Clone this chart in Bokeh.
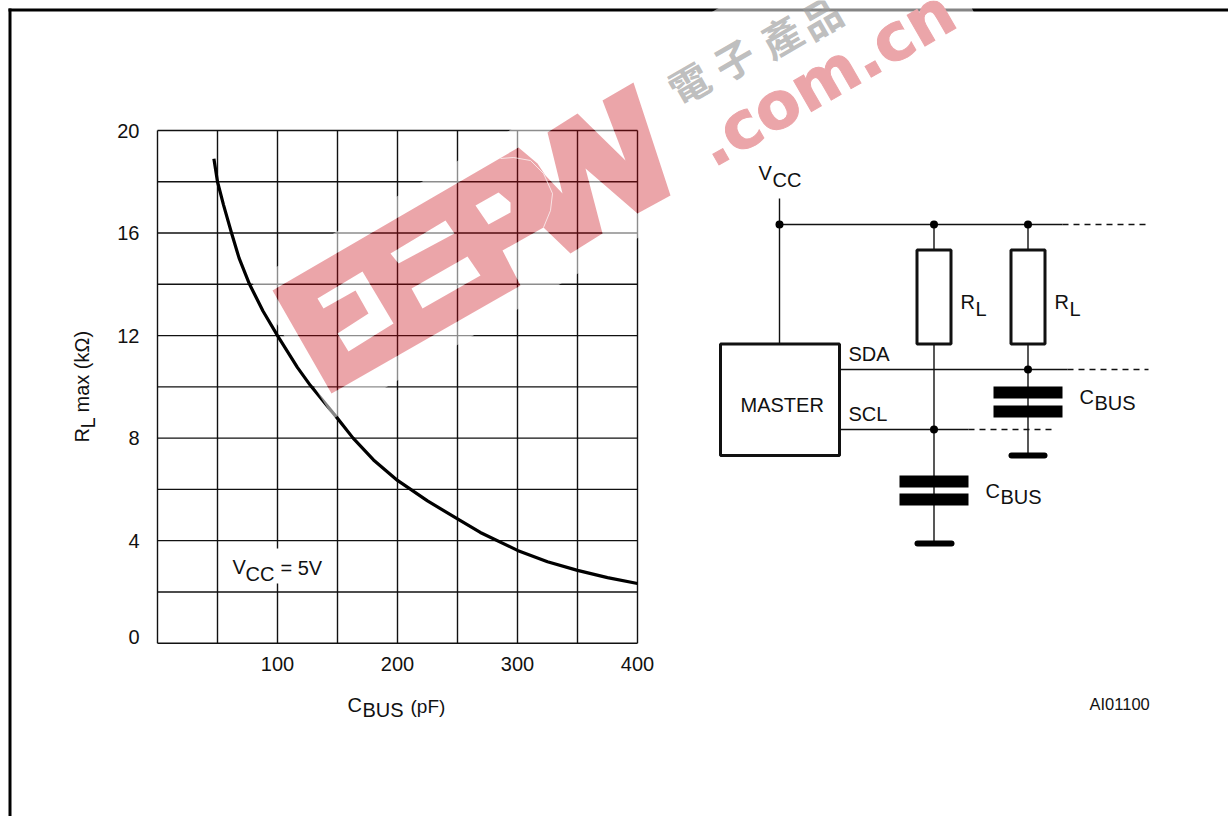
from math import pi
from bokeh.core.properties import value
from bokeh.embed import file_html
from bokeh.models import FixedTicker, LinearAxis, Range1d
from bokeh.plotting import figure
from bokeh.resources import INLINE

# ---- chart data ----
c_bus_pf = [47, 50, 55, 61.7, 68, 76.7, 88, 100, 116.7, 127.5, 150, 163, 180, 200, 225, 250, 269, 300, 325, 350, 375, 400]
r_l_max_kohm = [18.9, 18.0, 17.1, 16.0, 15.02, 14.0, 12.95, 12.0, 10.75, 10.05, 8.77, 8.0, 7.15, 6.35, 5.55, 4.85, 4.32, 3.62, 3.18, 2.84, 2.56, 2.33]
x_tick_values = [100, 200, 300, 400]
y_tick_values = [4, 8, 12, 16, 20]
y_zero_tick = [0]
x_grid_values = [0, 50, 100, 150, 200, 250, 300, 350, 400]
y_grid_values = [0, 2, 4, 6, 8, 10, 12, 14, 16, 18, 20]

FONT = value("Liberation Sans")
W, H = 1228, 816
PX_PER_PF = 1.2
PX_PER_KOHM = 25.635
X0, Y0 = 157.0, 642.7
SHIFT = 7.5  # labels are listed by their visual baseline

p = figure(width=W, height=H, output_backend="svg", toolbar_location=None,
           x_range=Range1d(0, W), y_range=Range1d(H, 0),
           x_axis_location=None, y_axis_location=None, min_border=0,
           outline_line_color=None, background_fill_color="white", border_fill_color="white")
p.grid.visible = False
p.extra_x_ranges["chart"] = Range1d(-X0 / PX_PER_PF, (W - X0) / PX_PER_PF)
p.extra_y_ranges["chart"] = Range1d((Y0 - H) / PX_PER_KOHM, Y0 / PX_PER_KOHM)
chart = dict(x_range_name="chart", y_range_name="chart")

# page frame
p.segment([8, 9.5], [9.5, 8], [W, 9.5], [9.5, H], line_color="black", line_width=3)

# chart grid and curve
p.segment(x_grid_values, [0] * len(x_grid_values), x_grid_values, [20] * len(x_grid_values),
          line_color="#111111", line_width=1.4, **chart)
p.segment([0] * len(y_grid_values), y_grid_values, [400] * len(y_grid_values), y_grid_values,
          line_color="#111111", line_width=1.4, **chart)
p.line(c_bus_pf, r_l_max_kohm, line_color="black", line_width=3.2, line_join="round", **chart)
p.quad(left=[268], right=[290], top=[548], bottom=[583], fill_color="white", line_color=None)

# real axes, without rule or marks, as in the reference
def axis(cls_side, ticks, **kw):
    a = LinearAxis(ticker=FixedTicker(ticks=ticks), fixed_location=0, axis_line_color=None,
                   major_tick_line_color=None, minor_tick_line_color=None,
                   major_label_text_font="Liberation Sans", major_label_text_font_size="20px",
                   major_label_text_color="#111111", x_range_name="chart", y_range_name="chart", **kw)
    p.add_layout(a, cls_side)

axis("below", x_tick_values, major_label_standoff=8)
axis("left", y_tick_values, major_label_standoff=12)
# the zero label sits above its grid line in the reference
p.text([0], y_zero_tick, text=[str(v) for v in y_zero_tick], x_offset=-18, y_offset=-6.5,
       text_font=FONT, text_font_size="20px", text_color="#111111",
       text_align="right", text_baseline="middle", **chart)

# schematic
wire_x0 = [779, 779, 933.5, 1027.5, 839, 839, 933.5, 1027.5]
wire_y0 = [198, 224, 224, 224, 369, 429, 343, 343]
wire_x1 = [779, 1062, 933.5, 1027.5, 1067, 968, 933.5, 1027.5]
wire_y1 = [343, 224, 249, 249, 369, 429, 543, 455]
p.segment(wire_x0, wire_y0, wire_x1, wire_y1, line_color="#111111", line_width=1.4)
p.segment([1062, 1067, 968], [224, 369, 429], [1148, 1148, 1053], [224, 369, 429],
          line_color="#111111", line_width=1.4, line_dash="6 5")
p.quad(left=[720, 916.5, 1010.5], right=[839, 950.5, 1044.5], top=[343.5, 249.5, 249.5], bottom=[455, 343.5, 343.5],
       fill_color="white", line_color="#111111", line_width=3)
p.quad(left=[899, 899, 993, 993], right=[968, 968, 1062, 1062], top=[475, 493, 386, 405], bottom=[487, 505, 398, 417],
       fill_color="black", line_color=None)
p.segment([917, 1011], [543, 455], [951, 1044], [543, 455], line_color="black", line_width=6, line_cap="round")
p.scatter([779, 933.5, 1027.5, 1027.5, 933.5], [224, 224, 224, 369, 429], size=8, marker="circle",
          fill_color="black", line_color=None)

# ---- watermark ----
red_outer = ([272, 518, 537, 545, 562, 547, 577, 625, 602, 633, 670, 637, 585, 602, 570, 543, 502, 520, 331],
             [290, 147, 163, 175, 193, 132, 113, 160, 100, 82, 195, 213, 168, 233, 253, 227, 250, 285, 393])
hole_c = ([317, 362, 393, 348, 337, 368, 355, 323], [298, 271, 323, 351, 333, 313, 290, 308])
hole_e1 = ([390, 445, 454, 398], [253, 220, 233, 263])
hole_e2 = ([411, 467, 480, 422], [288, 256, 275, 308])
hole_p = ([475, 498, 510, 510, 488], [205, 192, 202, 212, 224])
holes = [hole_c, hole_e1, hole_e2, hole_p]
halo_rect = ([251, 912, 984, 333], [281, -106, 32, 418])

p.multi_polygons(
    xs=[[[halo_rect[0], red_outer[0]]] + [[h[0]] for h in holes]],
    ys=[[[halo_rect[1], red_outer[1]]] + [[h[1]] for h in holes]],
    fill_color="white", fill_alpha=0.52, line_color=None)
p.multi_polygons(
    xs=[[[red_outer[0]] + [h[0] for h in holes]]],
    ys=[[[red_outer[1]] + [h[1] for h in holes]]],
    fill_color="#C80510", fill_alpha=0.36, line_color=None)
p.line([500, 513, 530, 543, 552, 550, 543], [158, 157, 160, 173, 193, 210, 227],
       line_color="white", line_width=1.0, line_alpha=0.7)
p.text([825], [77], text=[".com.cn"], angle=pi / 6, text_font=value("DejaVu Sans"), text_font_style="bold",
       text_font_size="65px", text_color="#EBA5A9", text_outline_color="#EBA5A9",
       text_align="center", text_baseline="middle")
p.text([688, 733, 780, 820], [82, 58, 35, 16], text=["電", "子", "產", "品"], angle=pi / 6,
       text_font=value("Noto Sans CJK TC"), text_font_style="bold",
       text_font_size="40px", text_color="#9a9a9a", text_alpha=0.65, text_align="center", text_baseline="middle")

# ---- labels: (x, visual baseline y, text, size) ----
labels = [
    (232, 574, "V", 20), (245, 581, "CC", 20), (280, 575, "= 5V", 20),
    (347, 712, "C", 20), (362, 717, "BUS", 20), (410, 713, "(pF)", 19),
    (758, 180, "V", 20), (772, 187, "CC", 20),
    (960, 309, "R", 20), (975, 316, "L", 20), (1054, 309, "R", 20), (1069, 316, "L", 20),
    (848, 361, "SDA", 20), (848, 421, "SCL", 20), (740, 412, "MASTER", 20),
    (1079, 404, "C", 20), (1094, 410, "BUS", 20), (985, 498, "C", 20), (1000, 504, "BUS", 20),
    (1089, 711, "AI01100", 16.5),
]
for x, y, t, s in labels:
    p.text([x], [y - SHIFT], text=[t], text_font=FONT, text_font_size=f"{s}px", text_color="#111111",
           text_align="left", text_baseline="alphabetic")
for x, y, t in [(89, 442, "R"), (95, 428, "L"), (89, 412, "max (kΩ)")]:
    p.text([x - SHIFT], [y], text=[t], angle=pi / 2, text_font=FONT, text_font_size="20px", text_color="#111111",
           text_align="left", text_baseline="alphabetic")

open("out.html", "w").write(file_html(p, INLINE))
